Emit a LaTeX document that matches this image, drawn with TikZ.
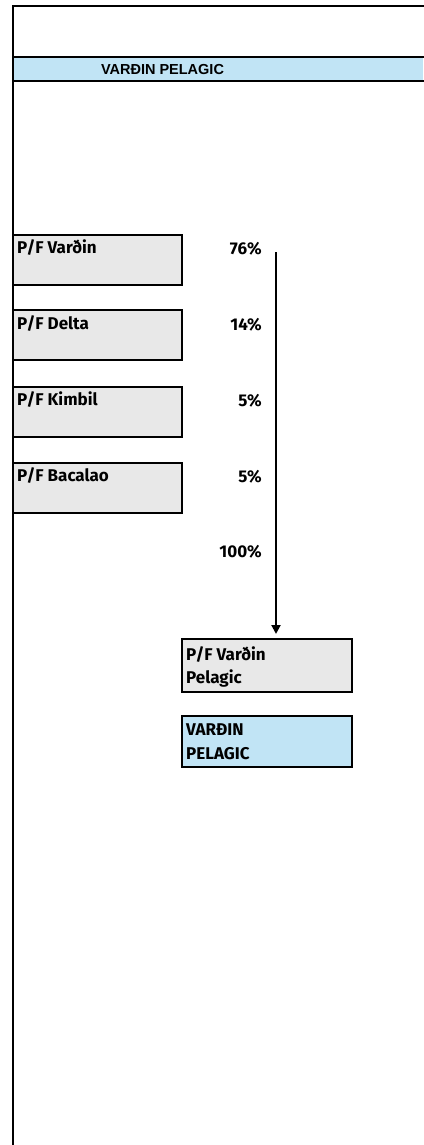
\documentclass[tikz,border=0pt]{standalone}
\usepackage{fontspec}
\setmainfont{Fira Sans}
\newfontfamily\hdrfont{Liberation Sans}
\usetikzlibrary{arrows.meta}
\definecolor{boxgray}{HTML}{E8E8E8}
\definecolor{bandblue}{HTML}{C1E4F5}
\tikzset{
  cellbox/.style={draw=black, line width=2.2pt, fill=boxgray},
  bluebox/.style={draw=black, line width=2.2pt, fill=bandblue},
  celltext/.style={anchor=base west, inner sep=0pt, font=\fontsize{17}{23}\selectfont\bfseries},
  pcttext/.style={anchor=base east, inner sep=0pt, font=\fontsize{17}{23}\selectfont\bfseries},
  frameline/.style={line width=2.4pt, line cap=rect},
}
\begin{document}
\begin{tikzpicture}[x=1pt,y=-1pt]
\useasboundingbox (0,0) rectangle (423,1145);
% header band
\fill[bandblue] (13,57) rectangle (423,81);
\draw[frameline] (13,57) -- (423,57);
\draw[frameline] (13,81) -- (423,81);
\draw[frameline] (13,6) -- (423,6);
\draw[frameline] (13,6) -- (13,1146);
\node[anchor=base, inner sep=0pt, font=\hdrfont\fontsize{14.5}{16}\selectfont\bfseries] (hdr) at (162.5,75) {VARÐIN PELAGIC};
% left boxes
\draw[cellbox] (13,235) rectangle (182,285);
\draw[cellbox] (13,310) rectangle (182,360);
\draw[cellbox] (13,387) rectangle (182,437);
\draw[cellbox] (13,463) rectangle (182,513);
\node[celltext] (t1) at (17,253) {P/F Varðin};
\node[celltext] (t2) at (17,329) {P/F Delta};
\node[celltext] (t3) at (17,405) {P/F Kimbil};
\node[celltext] (t4) at (17,481) {P/F Bacalao};
% percentages
\node[pcttext] (p1) at (262,254) {76\%};
\node[pcttext] (p2) at (262,330) {14\%};
\node[pcttext] (p3) at (262,406) {5\%};
\node[pcttext] (p4) at (262,482) {5\%};
\node[pcttext] (p5) at (262,557) {100\%};
% lower boxes
\draw[cellbox] (182,639) rectangle (352,692);
\draw[bluebox] (182,716) rectangle (352,767);
\node[celltext] (t5a) at (186,660) {P/F Varðin};
\node[celltext] (t5b) at (186,683) {Pelagic};
\node[celltext] (t6a) at (186,735) {VARÐIN};
\node[celltext] (t6b) at (186,759) {PELAGIC};
% arrow
\coordinate (astart) at (276,252);
\coordinate (aend) at (276,634);
\draw[line width=2pt, -{Triangle[width=9pt,length=9pt]}] (astart) -- (aend);
\end{tikzpicture}
\end{document}
